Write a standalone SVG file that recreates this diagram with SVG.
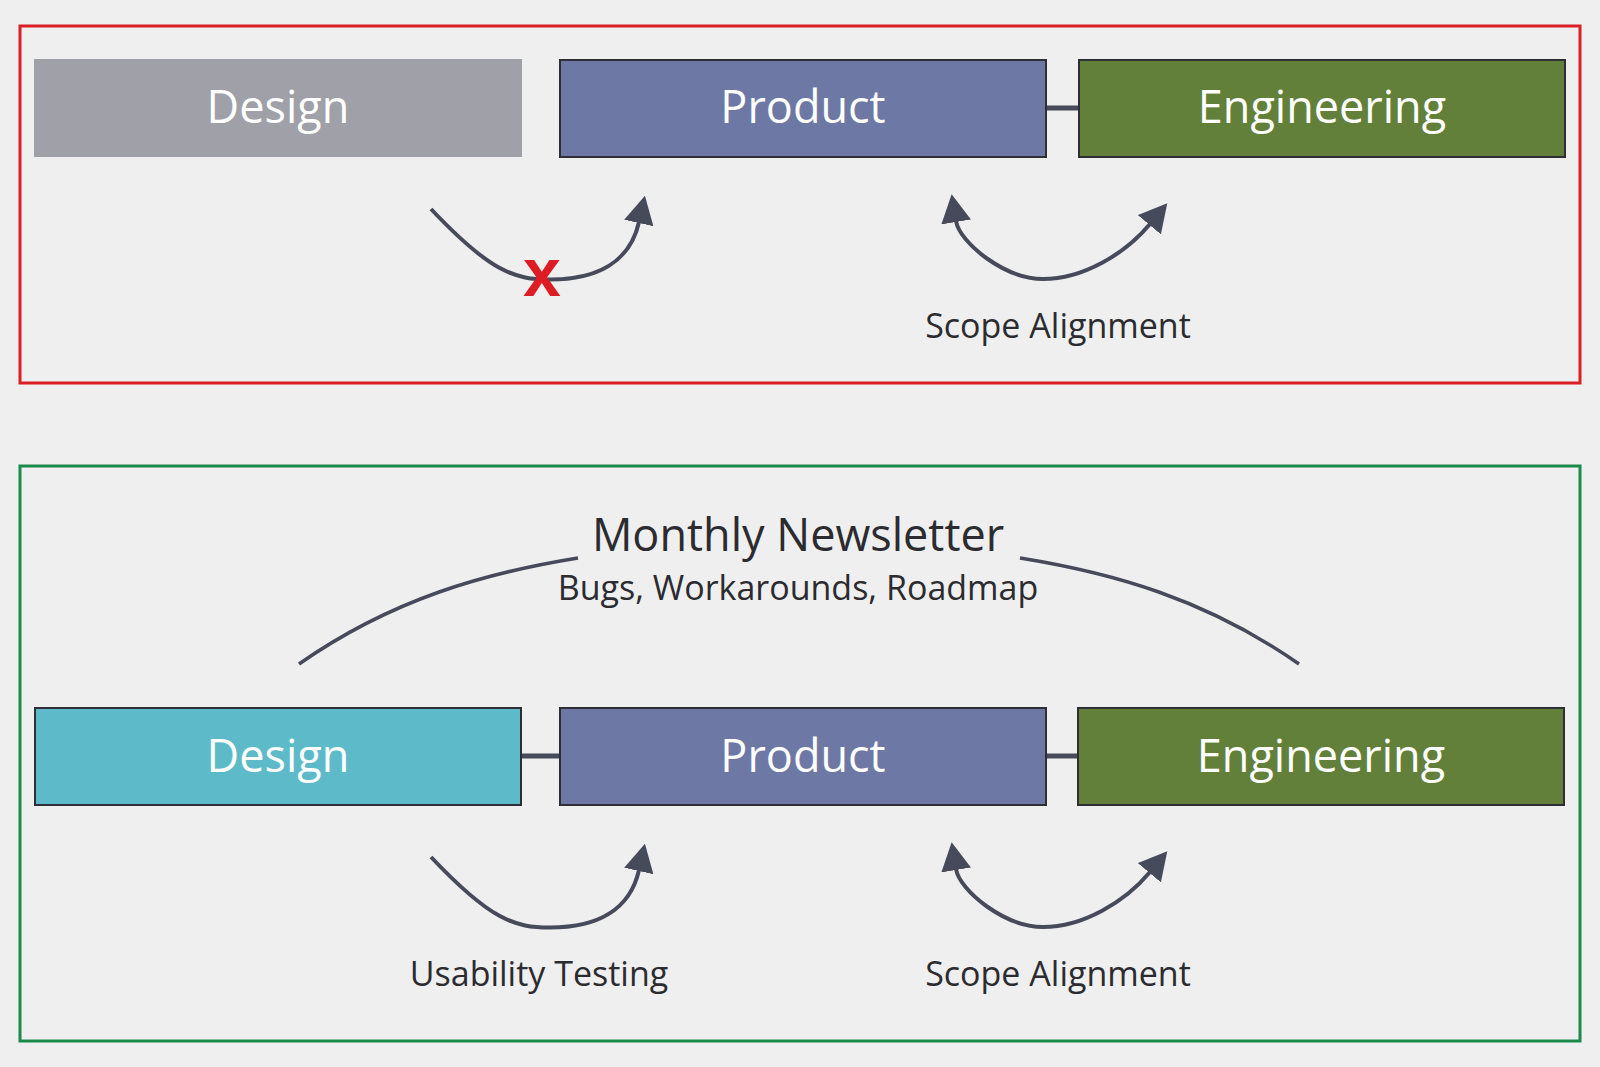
<svg xmlns="http://www.w3.org/2000/svg" width="1600" height="1067" viewBox="0 0 1600 1067">
<style>
.frame{fill:none;stroke-width:3}
.box{stroke:#2E2E36;stroke-width:2}
.lbl{font-family:"Open Sans","Noto Sans",sans-serif;font-size:45px;fill:#FFFFFF;text-anchor:middle}
.cap{font-family:"Open Sans","Noto Sans",sans-serif;font-size:34px;fill:#2B2B30;text-anchor:middle}
.arc{fill:none;stroke:#474A5A;stroke-width:4}
.link{stroke:#474A5A;stroke-width:5}
</style>
<defs>
<marker id="ah" markerUnits="userSpaceOnUse" markerWidth="28" markerHeight="30" viewBox="0 0 28 30" refX="1" refY="15" orient="auto-start-reverse">
<path d="M0,0 L28,15 L0,30 z" fill="#474A5A"/>
</marker>
</defs>
<rect width="1600" height="1067" fill="#EFEFEF"/>
<g id="frame-top"><rect class="frame" x="20" y="26" width="1560" height="357" stroke="#DC1F26"/></g>
<g id="frame-bottom"><rect class="frame" x="20" y="466" width="1560" height="575" stroke="#1A8A4A"/></g>

<g id="connectors">
<line class="link" x1="1046" y1="108" x2="1079" y2="108"/>
<line class="link" x1="521" y1="756" x2="560" y2="756"/>
<line class="link" x1="1046" y1="756" x2="1078" y2="756"/>
<path class="arc" d="M431 209 C491 272.6, 515 279.5, 550 279.5 C597 279.5, 630 262, 639 222" marker-end="url(#ah)"/>
<path class="arc" d="M956 221 C959.6 243, 1005 279, 1043 279 C1083 279, 1125 254, 1150 224" marker-start="url(#ah)" marker-end="url(#ah)"/>
<path class="arc" d="M431 857 C491 920.6, 515 927.5, 550 927.5 C597 927.5, 630 910, 639 870" marker-end="url(#ah)"/>
<path class="arc" d="M956 869 C959.6 891, 1005 927, 1043 927 C1083 927, 1125 902, 1150 872" marker-start="url(#ah)" marker-end="url(#ah)"/>
<path class="arc" style="stroke-width:3.5" d="M299 664 C392 599, 485 573, 578 558"/>
<path class="arc" style="stroke-width:3.5" d="M1020 558 C1113 573, 1206 599, 1299 664"/>
</g>

<g id="design-top"><rect x="34" y="59" width="488" height="98" fill="#A0A0A8"/><text class="lbl" x="278" y="123">Design</text></g>
<g id="product-top"><rect class="box" x="560" y="60" width="486" height="97" fill="#6E78A4"/><text class="lbl" x="803" y="123">Product</text></g>
<g id="engineering-top"><rect class="box" x="1079" y="60" width="486" height="97" fill="#63803A"/><text class="lbl" x="1322" y="123">Engineering</text></g>

<g id="design-bottom"><rect class="box" x="35" y="708" width="486" height="97" fill="#5DBBC9"/><text class="lbl" x="278" y="772">Design</text></g>
<g id="product-bottom"><rect class="box" x="560" y="708" width="486" height="97" fill="#6E78A4"/><text class="lbl" x="803" y="772">Product</text></g>
<g id="engineering-bottom"><rect class="box" x="1078" y="708" width="486" height="97" fill="#63803A"/><text class="lbl" x="1321" y="772">Engineering</text></g>

<g id="labels">
<text x="542" y="296" style="font-family:'Liberation Sans',Arial,sans-serif;font-weight:bold;font-size:68px;fill:#DD1C24;text-anchor:middle">x</text>
<text class="cap" x="1058" y="338">Scope Alignment</text>
<text class="cap" x="1058" y="986">Scope Alignment</text>
<text class="cap" x="539" y="986">Usability Testing</text>
<text class="cap" x="798" y="551" style="font-size:45px">Monthly Newsletter</text>
<text class="cap" x="798" y="600">Bugs, Workarounds, Roadmap</text>
</g>
</svg>
